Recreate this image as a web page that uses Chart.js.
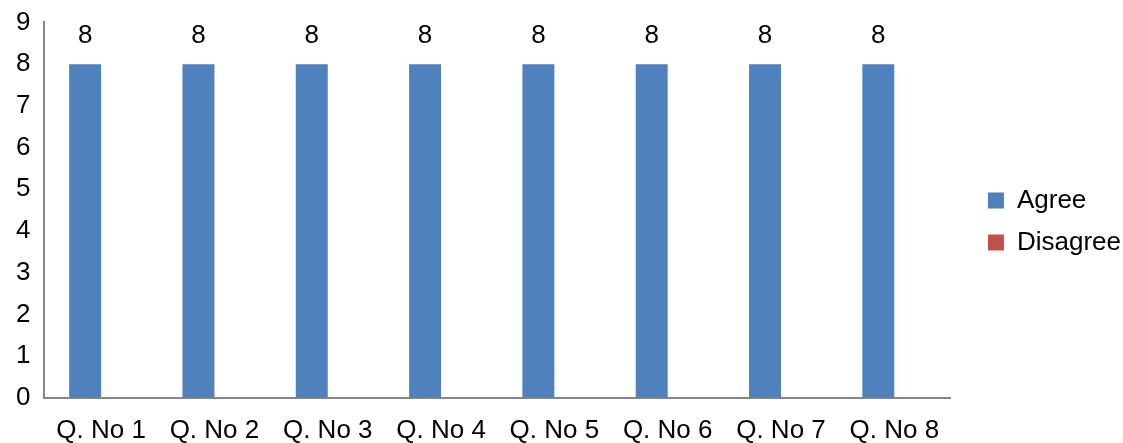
<!DOCTYPE html>
<html>
<head>
<meta charset="utf-8">
<script src="https://cdn.jsdelivr.net/npm/chart.js@4.4.0/dist/chart.umd.min.js"></script>
<style>
  html, body { margin: 0; padding: 0; background: #fff; }
  #wrap { width: 1123px; height: 443px; position: relative; }
</style>
</head>
<body>
<div id="wrap"><canvas id="chart"></canvas></div>
<script>
const questions = ["Q. No 1", "Q. No 2", "Q. No 3", "Q. No 4", "Q. No 5", "Q. No 6", "Q. No 7", "Q. No 8"];
const agree = [8, 8, 8, 8, 8, 8, 8, 8];
const disagree = [0, 0, 0, 0, 0, 0, 0, 0];

const FONT = "'Liberation Sans', Arial, Helvetica, sans-serif";

// draws the value above each Agree bar
const barLabels = {
  id: "barLabels",
  afterDatasetsDraw(chart) {
    const ctx = chart.ctx;
    const meta = chart.getDatasetMeta(0);
    ctx.save();
    ctx.font = "26px " + FONT;
    ctx.fillStyle = "#000";
    ctx.textAlign = "center";
    ctx.textBaseline = "bottom";
    meta.data.forEach((bar, i) => {
      ctx.fillText(String(agree[i]), bar.x, bar.y - 15);
    });
    ctx.restore();
  }
};

// the negative bottom padding stretches the legend box; trim it so the legend sits higher
const legendShift = {
  id: "legendShift",
  afterLayout(chart) {
    if (chart.legend) chart.legend.bottom -= 20;
  }
};

new Chart(document.getElementById("chart"), {
  type: "bar",
  data: {
    labels: questions,
    datasets: [
      { label: "Agree", data: agree, backgroundColor: "#4F81BD", categoryPercentage: 0.564, barPercentage: 1 },
      { label: "Disagree", data: disagree, backgroundColor: "#C0504D", categoryPercentage: 0.564, barPercentage: 1 }
    ]
  },
  options: {
    responsive: true,
    maintainAspectRatio: false,
    animation: false,
    layout: { padding: { top: 0, right: -8, left: 2, bottom: -20 } },
    plugins: {
      legend: {
        position: "right",
        labels: {
          font: { family: FONT, size: 26 },
          color: "#000",
          boxWidth: 16,
          boxHeight: 16,
          padding: 16
        }
      },
      tooltip: { enabled: false }
    },
    scales: {
      x: {
        grid: { display: false, drawTicks: false },
        border: { color: "#868686", width: 2 },
        ticks: { font: { family: FONT, size: 26 }, color: "#000", padding: 17, maxRotation: 0 }
      },
      y: {
        min: 0,
        max: 9,
        grid: { display: false, drawTicks: false },
        border: { color: "#868686", width: 2 },
        ticks: { stepSize: 1, font: { family: FONT, size: 26, lineHeight: 0.65 }, color: "#000", padding: 14 }
      },
      // empty spacer between plot and legend
      gap: {
        position: "right",
        grid: { display: false, drawTicks: false },
        border: { display: false },
        ticks: { display: false },
        afterFit(scale) { scale.width = 21; }
      }
    }
  },
  plugins: [barLabels, legendShift]
});
</script>
</body>
</html>
